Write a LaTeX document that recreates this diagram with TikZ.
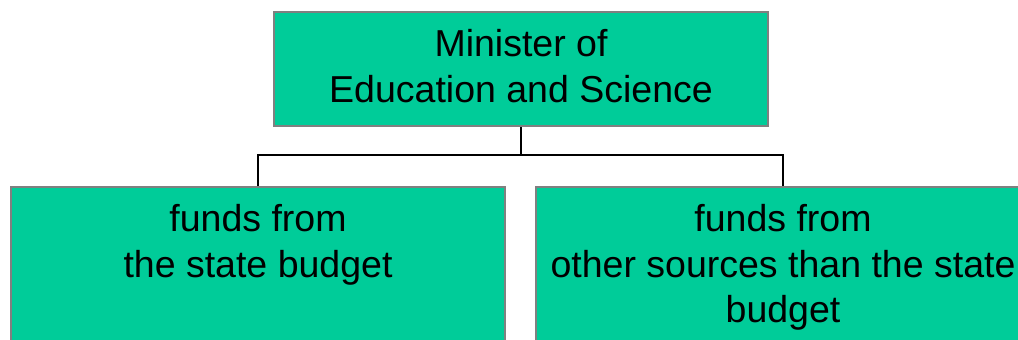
\documentclass[tikz,border=0pt]{standalone}
\usepackage{fontspec}
\setmainfont{Liberation Sans}
\definecolor{boxgreen}{RGB}{0,204,153}
\definecolor{boxrim}{RGB}{128,128,128}
\tikzset{
  orgbox/.style={draw=boxrim, line width=1pt, fill=boxgreen, align=center,
    minimum width=247pt, inner xsep=0pt, inner ysep=9pt,
    anchor=north, font=\fontsize{18.75pt}{22.65pt}\selectfont},
  link/.style={draw=black, line width=1pt}
}
\begin{document}
\begin{tikzpicture}[x=0.5pt, y=-0.5pt]
    \useasboundingbox (0, 0) rectangle (1018, 340);
    \clip (0, 0) rectangle (1018, 340);
    \path (521, 11) node [orgbox, text height=36.15pt, text depth=3pt] (min) {Minister of\\Education and Science};
    \path (258, 186) node [orgbox, text height=36.15pt, text depth=80pt] (state) {funds from\\the state budget};
    \path (783, 186) node [orgbox, text height=58.8pt, text depth=60pt] (other) {funds from\\other sources than the state\\budget};
    \coordinate (bus) at (521, 155);
    \draw [link] (min.south) -- (bus) -| (state.north);
    \draw [link] (bus) -| (other.north);
\end{tikzpicture}
\end{document}
